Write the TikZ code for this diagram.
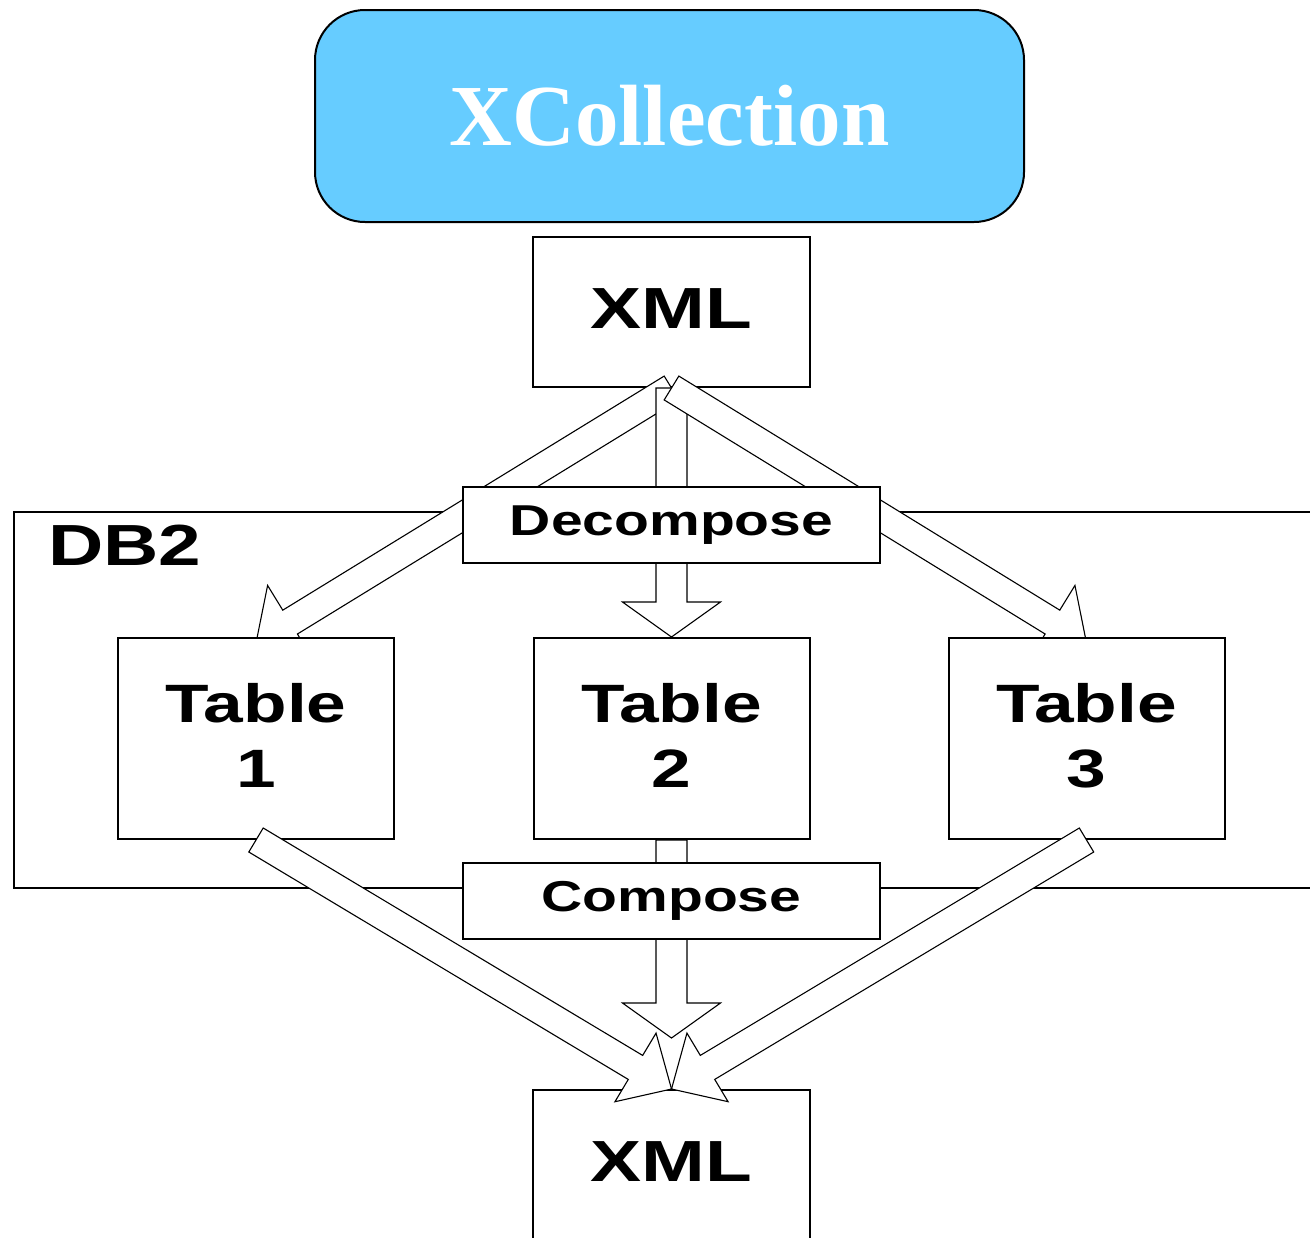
\documentclass[tikz,border=0pt]{standalone}
\usepackage{fontspec}
\setmainfont{Liberation Serif}
\newfontfamily\boxfont[FakeStretch=1.32]{Liberation Sans}
\usetikzlibrary{calc,positioning}
\usepackage{xcolor}
\definecolor{skyblue}{RGB}{102,204,255}

\pgfdeclarelayer{frame}
\pgfdeclarelayer{boxlow}
\pgfdeclarelayer{arrowlow}
\pgfdeclarelayer{arrowhigh}
\pgfdeclarelayer{boxhigh}
\pgfsetlayers{frame,boxlow,arrowlow,main,arrowhigh,boxhigh}

% hollow block arrow: from, to, half shaft, half head, head length
\newcommand{\fatarrow}[5]{%
  \coordinate (hb) at ($(#2)!#5!(#1)$);
  \draw[blockarrow] ($(#1)!#3!90:(#2)$) -- ($(hb)!#3!-90:(#1)$) -- ($(hb)!#4!-90:(#1)$)
    -- (#2) -- ($(hb)!#4!90:(#1)$) -- ($(hb)!#3!90:(#1)$) -- ($(#1)!#3!-90:(#2)$) -- cycle;
}

\begin{document}
\begin{tikzpicture}[
    x=0.5pt, y=-0.5pt, % pixel grid, y downwards
    plainbox/.style={draw, line width=1pt, fill=white, inner sep=2pt}, % general box
    titlebox/.style={draw, line width=1pt, fill=skyblue, rounded corners=25pt, text=white,
      minimum width=354.5pt, minimum height=106pt, font=\fontsize{43.5}{50}\selectfont\bfseries}, % XCollection
    xmlbox/.style={plainbox, minimum width=138.5pt, minimum height=75pt, text depth=3pt,
      font=\boxfont\fontsize{29}{35}\selectfont\bfseries}, % XML document
    tablebox/.style={plainbox, minimum width=138pt, minimum height=100.5pt, align=center, text depth=3pt,
      font=\boxfont\fontsize{27}{32.5}\selectfont\bfseries}, % DB2 tables
    opbox/.style={plainbox, minimum width=208.5pt, minimum height=38pt,
      font=\boxfont\fontsize{21.6}{26}\selectfont\bfseries}, % Decompose, Compose
    blockarrow/.style={draw, fill=white, line width=0.55pt, line join=miter} % hollow arrows
]
\useasboundingbox (0,0) rectangle (1310,1237);

% DB2 frame
\begin{pgfonlayer}{frame}
\draw[line width=1pt] (14,512) rectangle (1330,888);
\node[anchor=base west, inner sep=0pt, font=\boxfont\fontsize{29}{34}\selectfont\bfseries] (db2) at (48,565) {DB2};
\end{pgfonlayer}

\begin{pgfonlayer}{boxlow}
\node[xmlbox] (xmltop) at (671.5,312) {XML};
\end{pgfonlayer}

\node[opbox] (decomp) at (671.5,525) {Decompose};
\node[tablebox] (tab1) at (256,738.5) {Table\\1};
\node[tablebox] (tab2) at (671.5,738.5) {Table\\2};
\node[tablebox] (tab3) at (1086.5,738.5) {Table\\3};
\node[xmlbox] (xmlbot) at (671.5,1165) {XML};

\begin{pgfonlayer}{boxhigh}
\node[opbox] (comp) at (671.5,901) {Compose};
\node[titlebox] (xcoll) at (669.5,116) {XCollection};
\end{pgfonlayer}

\coordinate (in1) at ($(tab1.north)+(0,6)$);
\coordinate (in3) at ($(tab3.north)+(0,6)$);
\coordinate (outmid) at ($(xmlbot.north)+(0,-51)$);

% decompose arrows
\begin{pgfonlayer}{arrowlow}
\fatarrow{xmltop.south}{in1}{7pt}{21.5pt}{20pt}
\fatarrow{xmltop.south}{tab2.north}{7.75pt}{24.5pt}{17.5pt}
\fatarrow{xmltop.south}{in3}{7pt}{21.5pt}{20pt}
\end{pgfonlayer}

% compose arrows
\begin{pgfonlayer}{arrowhigh}
\fatarrow{tab1.south}{xmlbot.north}{7pt}{20pt}{21pt}
\fatarrow{tab3.south}{xmlbot.north}{7pt}{20pt}{21pt}
\fatarrow{tab2.south}{outmid}{7.75pt}{24.5pt}{17.5pt}
\end{pgfonlayer}
\end{tikzpicture}
\end{document}
